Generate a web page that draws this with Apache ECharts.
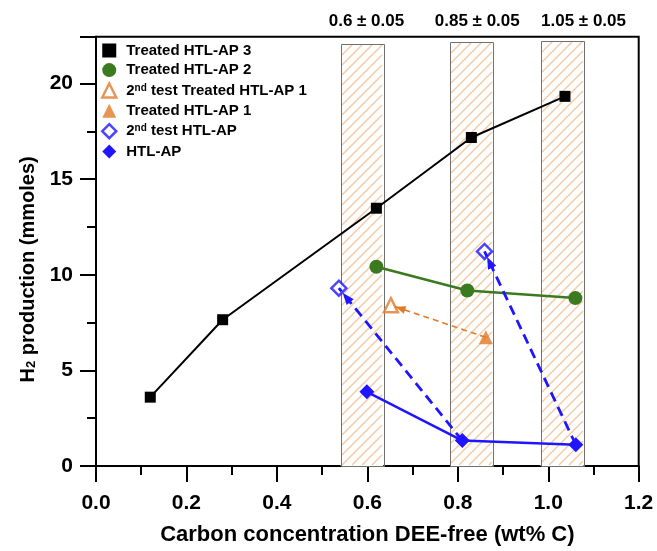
<!DOCTYPE html>
<html><head><meta charset="utf-8">
<script src="https://cdn.jsdelivr.net/npm/echarts@6/dist/echarts.min.js"></script>
<style>html,body{margin:0;padding:0;background:#fff;}#c{width:657px;height:551px;}</style>
</head><body><div id="c"></div>
<script>
// ---- data ----
const treated3X = [0.12, 0.28, 0.62, 0.83, 1.037];
const treated3Y = [3.6, 7.65, 13.48, 17.18, 19.33];
const treated2X = [0.62, 0.821, 1.06];
const treated2Y = [10.42, 9.18, 8.78];
const test2Treated1X = [0.652];
const test2Treated1Y = [8.41];
const treated1X = [0.862];
const treated1Y = [6.73];
const test2HtlX = [0.537, 0.859];
const test2HtlY = [9.30, 11.22];
const htlX = [0.599, 0.81, 1.061];
const htlY = [3.88, 1.33, 1.11];
const bandLow = [0.541, 0.783, 0.983];
const bandHigh = [0.635, 0.877, 1.078];
const bandTop = [22.05, 22.15, 22.2];
const bandLabelX = [0.598, 0.843, 1.078];
const bandLabels = ['0.6 \u00B1 0.05', '0.85 \u00B1 0.05', '1.05 \u00B1 0.05'];
const xTickValues = [0, 0.2, 0.4, 0.6, 0.8, 1.0, 1.2];
const xTickLabels = ['0.0', '0.2', '0.4', '0.6', '0.8', '1.0', '1.2'];
const yTickValues = [0, 5, 10, 15, 20];
const yTickLabels = ['0', '5', '10', '15', '20'];
const seriesNames = ['Treated HTL-AP 3', 'Treated HTL-AP 2', '2nd test Treated HTL-AP 1', 'Treated HTL-AP 1', '2nd test HTL-AP', 'HTL-AP'];

const FF = '"Liberation Sans", Arial, sans-serif';
const BLACK = '#000000', GREEN = '#3b7a1f', ORANGE = '#e07b2b', BLUE = '#2015ff';
const HATCH = '#f5c9a4';
const yMax = 22.45;

function pairs(xs, ys) { return xs.map((x, i) => [x, ys[i]]); }
function tickFmt(vals, labs) {
  return v => { const i = vals.findIndex(t => Math.abs(t - v) < 1e-6); return i >= 0 ? labs[i] : ''; };
}
function arrowTo(x, y, size, back) {
  return { coord: [x, y], symbol: 'triangle', symbolSize: size, symbolOffset: [0, back] };
}
// diagonal hatch lines inside a pixel rectangle (decoration only)
function hatchLines(rx, ry, rw, rh, step) {
  const x = Math.round(rx) + 1, y = Math.round(ry) + 1;
  const w = Math.round(rx + rw) - Math.round(rx) - 2, h = Math.round(ry + rh) - Math.round(ry) - 2;
  const out = [];
  for (let u = x - h; u < x + w; u += step) {
    let x0 = u, y0 = y + h, x1 = u + h, y1 = y;
    if (x0 < x) { y0 -= (x - x0); x0 = x; }
    if (x1 > x + w) { y1 += (x1 - (x + w)); x1 = x + w; }
    if (x1 - x0 > 0.5) {
      out.push({ type: 'line', shape: { x1: x0, y1: y0, x2: x1, y2: y1 }, style: { stroke: HATCH, lineWidth: 1.5 } });
    }
  }
  return out;
}

const chart = echarts.init(document.getElementById('c'), null, { renderer: 'canvas' });

const tickStyle = { color: '#000', width: 2 };

const option = {
  animation: false,
  backgroundColor: '#fff',
  textStyle: { fontFamily: FF },
  grid: { left: 96, right: 18.3, top: 36.7, bottom: 80.3, show: true, borderColor: '#000', borderWidth: 2 },
  legend: {
    orient: 'vertical', left: 96, top: 38, itemWidth: 14, itemHeight: 14, itemGap: 4.6,
    data: [
      { name: seriesNames[0], icon: 'rect', itemStyle: { color: BLACK } },
      { name: seriesNames[1], icon: 'circle', itemStyle: { color: GREEN } },
      { name: seriesNames[2], icon: 'triangle', itemStyle: { color: '#fff', borderColor: ORANGE, borderWidth: 2.5 } },
      { name: seriesNames[3], icon: 'triangle', itemStyle: { color: ORANGE } },
      { name: seriesNames[4], icon: 'diamond', itemStyle: { color: '#fff', borderColor: BLUE, borderWidth: 2.5 } },
      { name: seriesNames[5], icon: 'diamond', itemStyle: { color: BLUE } }
    ],
    formatter: n => n.replace(/^2nd/, '2{sup|nd}'),
    textStyle: {
      fontSize: 15, fontWeight: 'bold', color: '#000', fontFamily: FF, padding: [0, 0, 0, 5],
      rich: { sup: { fontSize: 10, fontWeight: 'bold', fontFamily: FF, color: '#000', verticalAlign: 'top' } }
    }
  },
  xAxis: {
    type: 'value', min: 0, max: 1.2, interval: 0.2,
    axisLine: { show: true, lineStyle: tickStyle },
    axisTick: { show: true, inside: false, length: 16, lineStyle: tickStyle },
    minorTick: { show: true, splitNumber: 2, length: 9, lineStyle: tickStyle },
    splitLine: { show: false }, minorSplitLine: { show: false },
    axisLabel: { fontSize: 21, fontWeight: 'bold', color: '#000', fontFamily: FF, margin: 27, formatter: tickFmt(xTickValues, xTickLabels) },
    name: 'Carbon concentration DEE-free (wt% C)', nameLocation: 'middle', nameGap: 58,
    nameTextStyle: { fontSize: 22, fontWeight: 'bold', color: '#000', fontFamily: FF }
  },
  yAxis: {
    type: 'value', min: 0, max: yMax, interval: 5,
    axisLine: { show: true, lineStyle: tickStyle },
    axisTick: { show: true, inside: false, length: 16, lineStyle: tickStyle },
    minorTick: { show: true, splitNumber: 2, length: 9, lineStyle: tickStyle },
    splitLine: { show: false }, minorSplitLine: { show: false },
    axisLabel: { fontSize: 21, fontWeight: 'bold', color: '#000', fontFamily: FF, margin: 23, formatter: tickFmt(yTickValues, yTickLabels) },
    name: 'H{sub|2} production (mmoles)', nameLocation: 'middle', nameGap: 58,
    nameTextStyle: {
      fontSize: 20, fontWeight: 'bold', color: '#000', fontFamily: FF, padding: [0, 36, 0, 0],
      rich: { sub: { fontSize: 13, fontWeight: 'bold', fontFamily: FF, color: '#000', verticalAlign: 'bottom' } }
    }
  },
  series: [
    {
      type: 'custom', name: 'bands', silent: true, z: 1, clip: false,
      data: bandLow.map((lo, i) => [lo, bandHigh[i], bandTop[i], bandLabelX[i]]),
      encode: { x: [0, 1, 3], y: 2 },
      renderItem: (params, api) => {
        const i = params.dataIndex;
        const p0 = api.coord([api.value(0), api.value(2)]);
        const p1 = api.coord([api.value(1), 0]);
        const c = api.coord([api.value(3), yMax]);
        const rx = p0[0], ry = p0[1], rw = p1[0] - p0[0], rh = p1[1] - p0[1];
        return {
          type: 'group', children: [
            { type: 'rect', shape: { x: rx, y: ry, width: rw, height: rh }, style: { fill: '#fff', stroke: null } },
            ...hatchLines(rx, ry, rw, rh, 10),
            { type: 'rect', shape: { x: Math.round(rx) + 0.5, y: Math.round(ry) + 0.5, width: Math.round(rw), height: Math.round(rh) },
              style: { fill: null, stroke: '#707070', lineWidth: 1 } },
            { type: 'text', x: c[0], y: c[1] - 15,
              style: { text: bandLabels[i], fill: '#000', fontSize: 17, fontWeight: 'bold', fontFamily: FF, align: 'center', verticalAlign: 'middle' } }
          ]
        };
      }
    },
    {
      name: seriesNames[0], type: 'line', z: 3, data: pairs(treated3X, treated3Y),
      symbol: 'rect', symbolSize: 11, color: BLACK,
      lineStyle: { color: BLACK, width: 2 }, itemStyle: { color: BLACK }
    },
    {
      name: seriesNames[1], type: 'line', z: 3, data: pairs(treated2X, treated2Y),
      symbol: 'circle', symbolSize: 14, color: GREEN,
      lineStyle: { color: GREEN, width: 2.5 }, itemStyle: { color: GREEN }
    },
    {
      name: seriesNames[2], type: 'scatter', z: 4, data: pairs(test2Treated1X, test2Treated1Y),
      symbol: 'triangle', symbolSize: 14, color: ORANGE,
      itemStyle: { color: '#fff', borderColor: ORANGE, borderWidth: 2.5 }
    },
    {
      name: seriesNames[3], type: 'scatter', z: 4, data: pairs(treated1X, treated1Y),
      symbol: 'triangle', symbolSize: 14, color: ORANGE, itemStyle: { color: ORANGE },
      markLine: {
        silent: true, symbol: ['none', 'triangle'],
        label: { show: false }, emphasis: { disabled: true },
        itemStyle: { color: ORANGE },
        lineStyle: { color: ORANGE, type: [6, 4], width: 1.6 },
        data: [[{ coord: [treated1X[0], treated1Y[0]], symbol: 'none' }, arrowTo(test2Treated1X[0], test2Treated1Y[0], [8, 10], 10)]]
      }
    },
    {
      name: seriesNames[4], type: 'scatter', z: 4, data: pairs(test2HtlX, test2HtlY),
      symbol: 'diamond', symbolSize: 15, color: BLUE,
      itemStyle: { color: '#fff', borderColor: BLUE, borderWidth: 2.5 }
    },
    {
      name: seriesNames[5], type: 'line', z: 3, data: pairs(htlX, htlY),
      symbol: 'diamond', symbolSize: 15, color: BLUE,
      lineStyle: { color: BLUE, width: 2.5 }, itemStyle: { color: BLUE },
      markLine: {
        silent: true, symbol: ['none', 'triangle'],
        label: { show: false }, emphasis: { disabled: true },
        itemStyle: { color: BLUE },
        lineStyle: { color: BLUE, type: [10, 6], width: 2.8 },
        data: [
          [{ coord: [htlX[1], htlY[1]], symbol: 'none' }, arrowTo(test2HtlX[0], test2HtlY[0], [9, 12], 12)],
          [{ coord: [htlX[2], htlY[2]], symbol: 'none' }, arrowTo(test2HtlX[1], test2HtlY[1], [9, 12], 12)]
        ]
      }
    }
  ]
};
chart.setOption(option);
</script></body></html>
